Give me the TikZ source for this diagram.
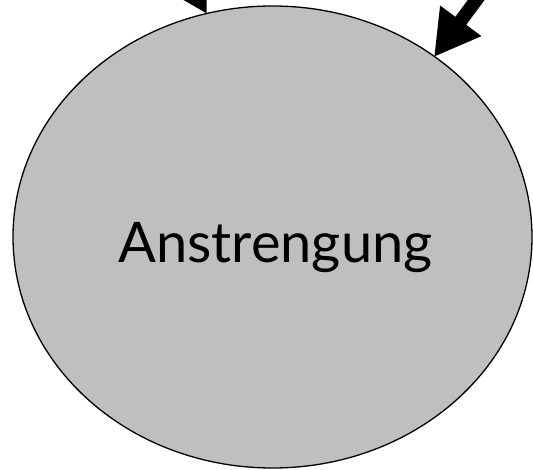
\documentclass[tikz,border=0pt]{standalone}
\usepackage{fontspec}
\setmainfont{Lato}
\usetikzlibrary{shapes.geometric,arrows.meta,calc}
\tikzset{
  bubble/.style={ellipse, draw=black, line width=1.3pt, fill=gray!50!white, minimum width=519pt, minimum height=462pt, inner sep=0pt},
  bigarrow/.style={line width=13.5pt, -{Triangle[length=45pt,width=48pt]}, draw=black}
}
\begin{document}
\begin{tikzpicture}[x=1pt,y=-1pt]
\useasboundingbox (0,0) rectangle (533,470);
\node[bubble] (e) at (272.5,237) {};
\node[font=\fontsize{56}{60}\selectfont, anchor=base, inner sep=0pt] (t) at (275.5,263) {Anstrengung};
\coordinate (t1) at (207,14);
\coordinate (s1) at ($(t1)+(-50,-87)$);
\coordinate (t2) at (434,57);
\coordinate (s2) at ($(t2)+(59.5,-80.4)$);
\draw[bigarrow] (s1) -- (t1);
\draw[bigarrow] (s2) -- (t2);
\end{tikzpicture}
\end{document}
